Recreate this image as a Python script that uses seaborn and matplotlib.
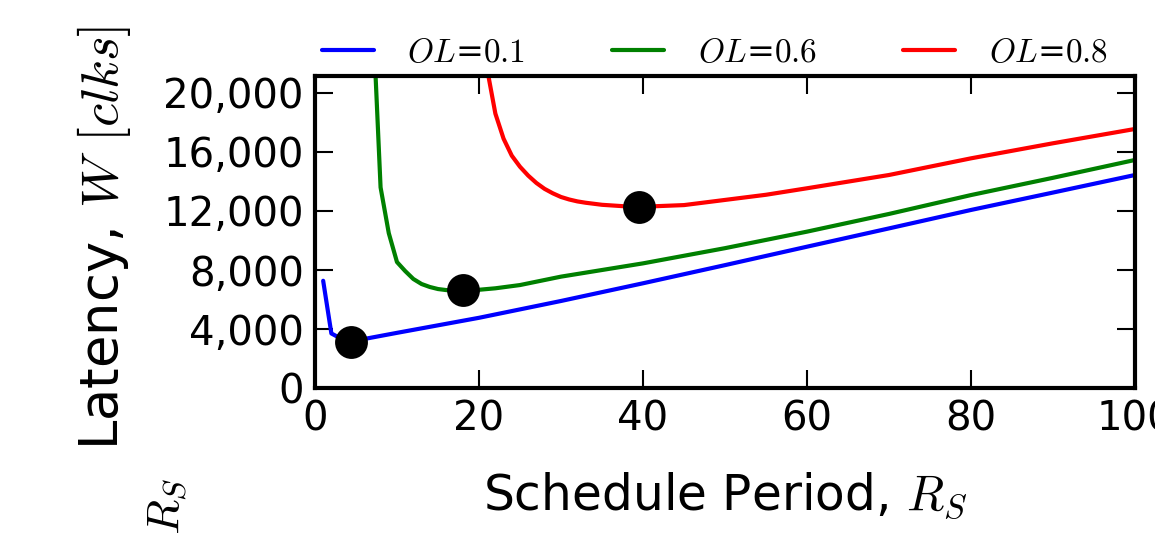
import pandas as pd
import matplotlib
matplotlib.use('Agg')
import matplotlib.pyplot as plt
import matplotlib.ticker as mticker
import seaborn as sns

# Set style
sns.set_style("ticks")
plt.rcParams['font.family'] = ['DejaVu Sans']
plt.rcParams['mathtext.fontset'] = 'cm'
for key in ['text.color', 'axes.labelcolor', 'xtick.color', 'ytick.color']:
    plt.rcParams[key] = 'black'

# Data
r_blue = [1, 2, 3, 4, 5, 10, 15, 20, 30, 40, 50, 60, 70, 80, 90, 100]
w_blue = [7270, 3700, 3400, 3150, 3220, 3740, 4250, 4760, 5900, 7100, 8330, 9580, 10820, 12070, 13250, 14440]

r_green = [7, 8, 9, 10, 11, 12, 13, 14, 15, 16, 17, 18, 19, 20, 22, 25, 30, 40, 50, 60, 70, 80, 90, 100]
w_green = [26000, 13600, 10500, 8540, 7930, 7390, 7050, 6850, 6710, 6640, 6610, 6600, 6620, 6660, 6760, 6980,
           7550, 8450, 9480, 10600, 11800, 13080, 14250, 15460]

r_red = [21, 22, 23, 24, 25, 26, 27, 28, 29, 30, 31, 32, 33, 35, 38, 40, 45, 50, 55, 60, 70, 80, 90, 100]
w_red = [21600, 18600, 16900, 15750, 15000, 14400, 13900, 13500, 13200, 12950, 12780, 12650, 12560, 12420,
         12310, 12290, 12400, 12750, 13100, 13540, 14440, 15570, 16590, 17560]

# optimum points
opt_r = [4.4, 18.0, 39.5]
opt_w = [3140, 6640, 12270]

labels = [r'$OL$=$0.1$', r'$OL$=$0.6$', r'$OL$=$0.8$']
colors = ['blue', 'green', 'red']

df = pd.concat([
    pd.DataFrame({'R': r_blue, 'W': w_blue, 'OL': labels[0]}),
    pd.DataFrame({'R': r_green, 'W': w_green, 'OL': labels[1]}),
    pd.DataFrame({'R': r_red, 'W': w_red, 'OL': labels[2]}),
])
df_opt = pd.DataFrame({'R': opt_r, 'W': opt_w})

fig = plt.figure(figsize=(11.55, 5.33), dpi=100)
ax = fig.add_axes([0.2727, 0.2720, 0.7100, 0.5854])

sns.lineplot(data=df, x='R', y='W', hue='OL', palette=colors, linewidth=3, ax=ax, sort=False)
sns.scatterplot(data=df_opt, x='R', y='W', color='black', s=560, linewidth=0, ax=ax, zorder=5)

ax.set_xlim(0, 100)
ax.set_ylim(0, 21150)
ax.set_xticks([0, 20, 40, 60, 80, 100])
ax.set_yticks([0, 4000, 8000, 12000, 16000, 20000])
ax.yaxis.set_major_formatter(mticker.FuncFormatter(lambda v, p: f'{v:,.0f}'))

for s in ax.spines.values():
    s.set_linewidth(3)
    s.set_color('black')
ax.tick_params(direction='in', length=13, width=1.5, labelsize=29, top=True, right=True, pad=8)

ax.set_xlabel(r'Schedule Period, $R_S$', fontsize=35, labelpad=22)
ax.set_ylabel(r'Latency, $W$ $[clks]$', fontsize=38)
ax.yaxis.set_label_coords(-0.222, 0.48)

# stray label in the lower left corner
fig.text(0.145, 0.05, r'$R_S$', rotation=90, fontsize=33, ha='center', va='center')

ax.legend(loc='center', bbox_to_anchor=(0.619, 0.902), bbox_transform=fig.transFigure, ncol=3,
          frameon=False, fontsize=24, handlelength=1.56, handletextpad=1.0, columnspacing=2.6)

plt.savefig('out.png', dpi=100)
